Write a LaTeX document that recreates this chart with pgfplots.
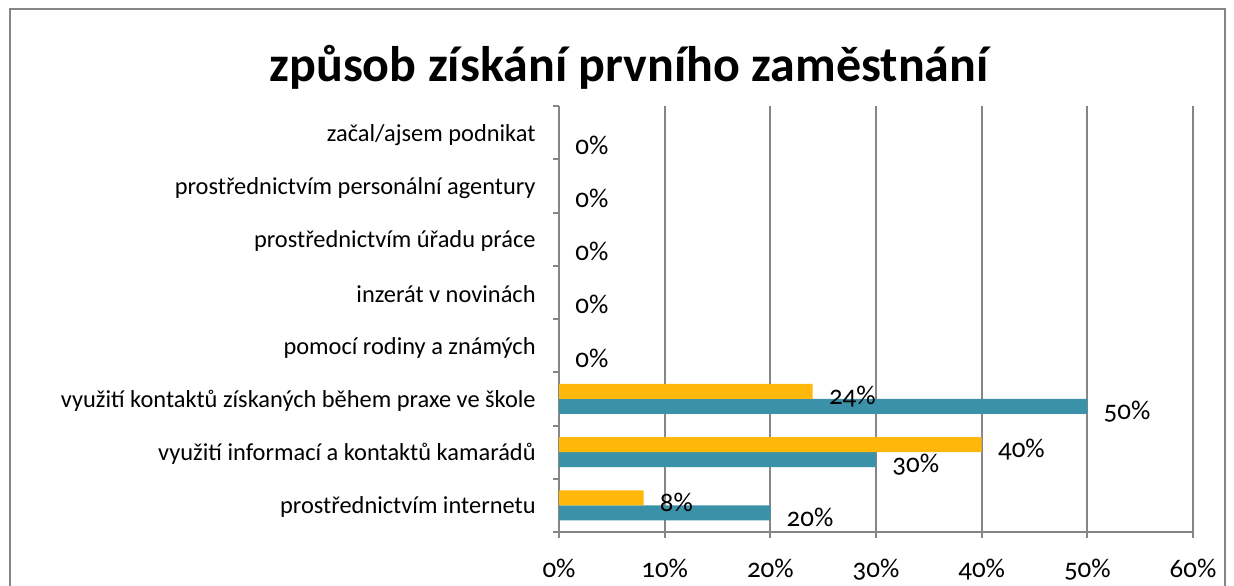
\documentclass[border=0pt]{standalone}
\usepackage{pgfplots}
\pgfplotsset{compat=1.18}
\usepackage{fontspec}
\setmainfont{Carlito}[Numbers=OldStyle]
\definecolor{tealc}{RGB}{58,145,168}
\definecolor{orngc}{RGB}{255,184,10}
\definecolor{gridc}{RGB}{134,134,134}
\begin{document}
\begin{tikzpicture}
\useasboundingbox (0,0) rectangle (617pt,-292.5pt);
\begin{scope}
\clip (0,0) rectangle (617pt,-292.5pt);
\draw[gridc, line width=1pt] (5pt,-4.5pt) rectangle (612.5pt,-320pt);
\end{scope}
\node[font=\bfseries\fontsize{25}{30}\selectfont] at (314.5pt,-33.5pt) {způsob získání prvního zaměstnání};
\begin{axis}[
  at={(279.5pt,-266pt)}, anchor=south west,
  scale only axis, width=317pt, height=213pt,
  xbar, bar width=7.5pt,
  xmin=0, xmax=60, ymin=-0.5, ymax=7.5,
  xtick={0,10,...,60},
  xticklabel={\pgfmathprintnumber{\tick}\%},
  /pgf/number format/assume math mode=true,
  xticklabel style={font=\fontsize{13.5}{15}\selectfont, yshift=-7pt},
  ytick={-0.5,0.5,...,7.5},
  yticklabels={},
  extra y ticks={0,1,2,3,4,5,6,7},
  extra y tick labels={prostřednictvím internetu,využití informací a kontaktů kamarádů,využití kontaktů získaných během praxe ve škole,pomocí rodiny a známých,inzerát v novinách,prostřednictvím úřadu práce,prostřednictvím personální agentury,začal/ajsem podnikat},
  extra y tick style={major tick length=0pt, yticklabel style={font=\fontsize{12.2}{14}\selectfont, anchor=east, inner sep=0pt, xshift=-11.5pt, yshift=-1pt}},
  tick align=outside,
  major tick length=3pt,
  tick style={gridc, line width=1pt},
  axis x line*=bottom, axis y line*=left,
  axis line style={gridc, line width=1pt},
  xmajorgrids, grid style={gridc, line width=1pt},
  nodes near coords={\pgfmathprintnumber{\pgfplotspointmeta}\%},
  point meta=x,
  nodes near coords style={anchor=west, inner sep=0pt, xshift=8pt, yshift=-2.5pt, font=\fontsize{13.5}{15}\selectfont, text=black},
]
\addplot[fill=tealc, draw=none, bar shift=-3.75pt] coordinates {(20,0) (30,1) (50,2) (0,3) (0,4) (0,5) (0,6) (0,7)};
\addplot[fill=orngc, draw=none, bar shift=3.75pt] coordinates {(8,0) (40,1) (24,2)};
\end{axis}
\end{tikzpicture}
\end{document}
